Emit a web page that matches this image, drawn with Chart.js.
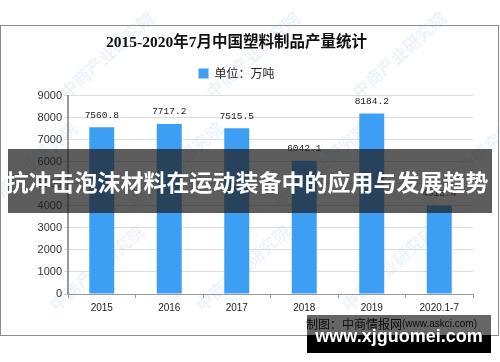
<!DOCTYPE html>
<html lang="zh">
<head>
<meta charset="UTF-8" />
<title>2015-2020年7月中国塑料制品产量统计</title>
<script src="https://cdn.jsdelivr.net/npm/chart.js@4.4.0/dist/chart.umd.min.js"></script>
<style>
  html, body { margin: 0; padding: 0; background: #fff; }
  #wrap { width: 500px; height: 362px; position: relative; }
</style>
</head>
<body>
<div id="wrap"><canvas id="chanliang"></canvas></div>
<script>
// data
const years = ["2015", "2016", "2017", "2018", "2019", "2020.1-7"];
const output = [7560.8, 7717.2, 7515.5, 6042.1, 8184.2, 4018.4];
const yMax = 9000;
const yStep = 1000;
const chartTitle = "2015-2020年7月中国塑料制品产量统计";
const unitLabel = "单位：万吨";
const sourceNote = ["制图：中商情报网", "(www.askci.com)"];
const bannerText = "抗冲击泡沫材料在运动装备中的应用与发展趋势";
const siteMark = "www.xjguomei.com";
const watermark = "中商产业研究院";

const cjk = '"Noto Sans CJK SC", "Liberation Sans", sans-serif';

// background, frame and faint diagonal watermark
const backdrop = {
  id: "backdrop",
  beforeDraw(chart) {
    const ctx = chart.ctx;
    ctx.save();
    ctx.fillStyle = "#fff";
    ctx.fillRect(0, 0, chart.width, chart.height);
    ctx.font = "bold 17px " + cjk;
    ctx.fillStyle = "rgba(110,165,220,0.13)";
    ctx.textAlign = "center";
    ctx.textBaseline = "middle";
    const spots = [[107, 55], [253, 55], [399, 55], [30, 165], [176, 165], [322, 165], [468, 165], [97, 268], [243, 268], [389, 268]];
    spots.forEach(([x, y]) => {
      ctx.save();
      ctx.translate(x, y);
      ctx.rotate(-Math.PI / 4.3);
      ctx.fillText(watermark, 0, 0);
      ctx.restore();
    });
    ctx.restore();
  },
  afterDraw(chart) {
    const ctx = chart.ctx;
    ctx.save();
    ctx.strokeStyle = "#8c8c8c";
    ctx.lineWidth = 1;
    ctx.strokeRect(0.5, 25.5, 498, 310);
    ctx.restore();
  }
};

// value labels above each bar
const valueLabels = {
  id: "valueLabels",
  afterDatasetsDraw(chart) {
    const ctx = chart.ctx;
    const meta = chart.getDatasetMeta(0);
    ctx.save();
    ctx.font = '9.5px "Liberation Mono", monospace';
    ctx.fillStyle = "#222";
    ctx.textAlign = "center";
    ctx.textBaseline = "middle";
    meta.data.forEach((bar, i) => {
      ctx.fillText(output[i].toFixed(1), bar.x, bar.y - 12);
    });
    ctx.restore();
  }
};

// source note, then the pasted-on banners
const overlays = {
  id: "overlays",
  afterDraw(chart) {
    const ctx = chart.ctx;
    ctx.save();
    ctx.textBaseline = "middle";
    ctx.textAlign = "left";
    ctx.fillStyle = "#222";
    ctx.font = "12px " + cjk;
    ctx.fillText(sourceNote[0], 306, 324);
    const w = ctx.measureText(sourceNote[0]).width;
    ctx.font = '10px "Liberation Sans", sans-serif';
    ctx.fillText(sourceNote[1], 306 + w, 324);

    // big middle band
    ctx.fillStyle = "rgba(30,30,30,0.72)";
    ctx.fillRect(8, 149, 484, 64);
    ctx.fillStyle = "#fff";
    ctx.textAlign = "center";
    ctx.font = "bold 23px " + cjk;
    ctx.fillText(bannerText, 247, 182);

    // site mark bottom right
    ctx.fillStyle = "rgba(0,0,0,0.6)";
    ctx.fillRect(307, 315, 184, 20);
    ctx.fillStyle = "#000";
    ctx.fillRect(307, 335, 184, 18);
    ctx.fillStyle = "#fff";
    ctx.font = 'bold 18px "Liberation Sans", sans-serif';
    ctx.fillText(siteMark, 399, 337);
    ctx.restore();
  }
};

// a little extra room under the legend
const legendGap = {
  id: "legendGap",
  beforeInit(chart) {
    const fit = chart.legend.fit;
    chart.legend.fit = function () {
      fit.bind(chart.legend)();
      this.height += 6;
    };
  }
};

new Chart(document.getElementById("chanliang"), {
  type: "bar",
  data: {
    labels: years,
    datasets: [{
      label: unitLabel,
      data: output,
      backgroundColor: "#3d9ff3",
      borderWidth: 0,
      barPercentage: 0.37,
      categoryPercentage: 1
    }]
  },
  options: {
    responsive: true,
    maintainAspectRatio: false,
    animation: false,
    layout: { padding: { left: 0, right: 27, top: 0, bottom: 38 } },
    plugins: {
      tooltip: { enabled: false },
      title: {
        display: true,
        text: chartTitle,
        color: "#111",
        font: { size: 15.5, weight: "bold", family: '"Liberation Serif", "Noto Sans CJK SC", serif' },
        padding: { top: 34, bottom: 5 }
      },
      legend: {
        labels: {
          boxWidth: 10,
          boxHeight: 10,
          padding: 10,
          color: "#222",
          font: { size: 12, family: cjk }
        }
      }
    },
    scales: {
      x: {
        grid: { drawOnChartArea: false, tickLength: 4, color: "#999", offset: true },
        border: { color: "#999", width: 1 },
        ticks: { color: "#222", padding: 4, font: { size: 10, family: '"Liberation Sans", sans-serif' } },
        afterFit: (s) => { s.height = 30; }
      },
      y: {
        min: 0,
        max: yMax,
        ticks: {
          stepSize: yStep,
          color: "#333",
          padding: 2,
          font: { size: 11, family: '"Liberation Sans", sans-serif' },
          callback: (v) => String(v)
        },
        grid: { color: "#dcdcdc", tickLength: 4 },
        border: { color: "#999", width: 2 },
        afterFit: (s) => { s.width = 68; }
      }
    }
  },
  plugins: [backdrop, valueLabels, overlays, legendGap]
});
</script>
</body>
</html>
